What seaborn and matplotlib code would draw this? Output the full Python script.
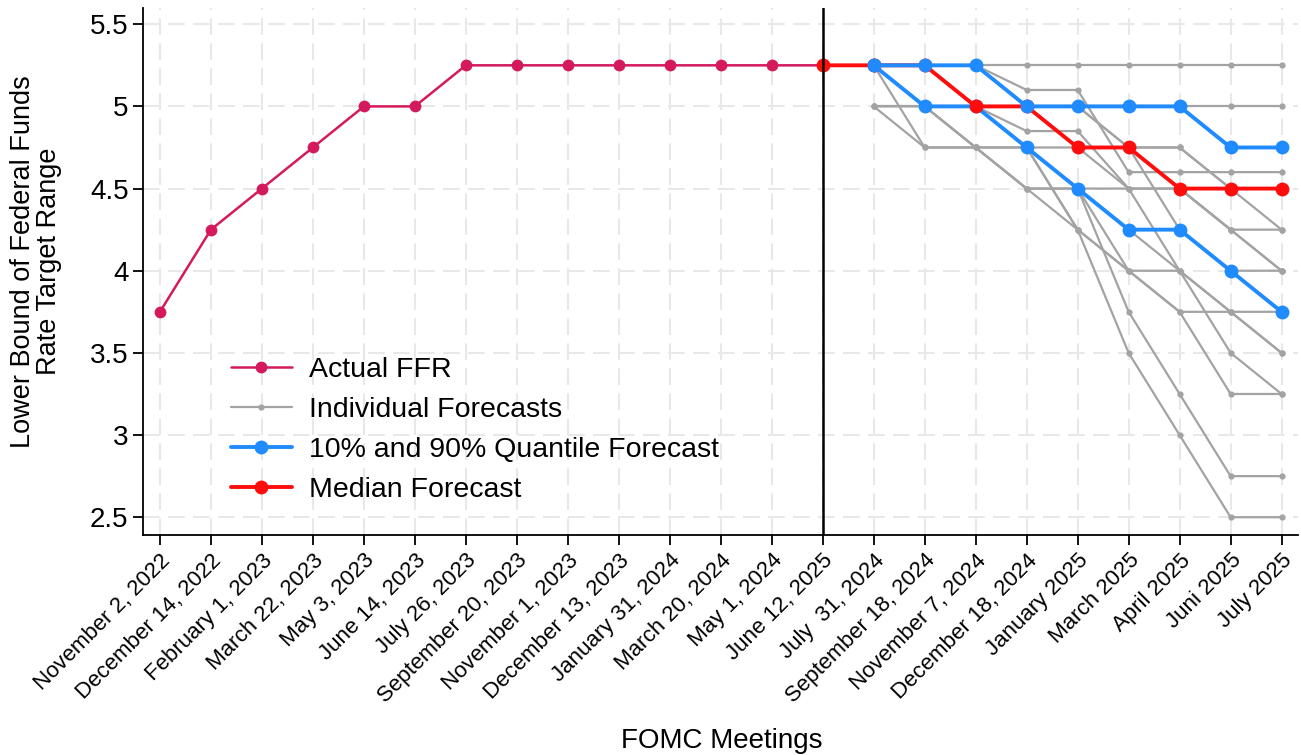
import numpy as np
import pandas as pd
import matplotlib
matplotlib.use('Agg')
import matplotlib.pyplot as plt
from matplotlib.lines import Line2D
from matplotlib.ticker import FuncFormatter
import seaborn as sns

sns.set_style('white')
plt.rcParams['font.family'] = ['Liberation Sans', 'DejaVu Sans']
plt.rcParams.update({'text.color': 'black', 'axes.labelcolor': 'black',
                     'xtick.color': 'black', 'ytick.color': 'black'})

meetings = ['November 2, 2022', 'December 14, 2022', 'February 1, 2023', 'March 22, 2023',
            'May 3, 2023', 'June 14, 2023', 'July 26, 2023', 'September 20, 2023',
            'November 1, 2023', 'December 13, 2023', 'January 31, 2024', 'March 20, 2024',
            'May 1, 2024', 'June 12, 2025', 'July  31, 2024', 'September 18, 2024',
            'November 7, 2024', 'December 18, 2024', 'January 2025', 'March 2025',
            'April 2025', 'Juni 2025', 'July 2025']

actual_ffr = [3.75, 4.25, 4.5, 4.75, 5.0, 5.0, 5.25, 5.25, 5.25, 5.25, 5.25, 5.25, 5.25, 5.25]

# forecasts cover the last nine meetings (July 31, 2024 -> July 2025)
median_fc = [5.25, 5.25, 5.25, 5.0, 5.0, 4.75, 4.75, 4.5, 4.5, 4.5]   # starts at June 12, 2025
q90_fc = [5.25, 5.25, 5.25, 5.0, 5.0, 5.0, 5.0, 4.75, 4.75]
q10_fc = [5.25, 5.0, 5.0, 4.75, 4.5, 4.25, 4.25, 4.0, 3.75]

individual_fc = {
    'F1': [5.25, 5.25, 5.25, 5.25, 5.25, 5.25, 5.25, 5.25, 5.25],
    'F2': [5.0, 5.0, 5.0, 5.0, 5.0, 5.0, 5.0, 5.0, 5.0],
    'F3': [5.25, 5.25, 5.25, 5.1, 5.1, 4.6, 4.6, 4.6, 4.6],
    'F4': [5.25, 5.0, 5.0, 4.85, 4.85, 4.5, 4.5, 4.25, 4.25],
    'F5': [5.25, 4.75, 4.75, 4.75, 4.75, 4.75, 4.75, 4.5, 4.5],
    'F6': [5.0, 4.75, 4.75, 4.5, 4.5, 4.5, 4.5, 4.25, 4.0],
    'F7': [5.0, 5.0, 4.75, 4.75, 4.25, 4.0, 4.0, 3.75, 3.5],
    'F8': [5.25, 5.0, 4.75, 4.5, 4.25, 3.5, 3.0, 2.5, 2.5],
    'F9': [5.25, 5.0, 4.75, 4.5, 4.5, 3.75, 3.25, 2.75, 2.75],
    'F10': [5.25, 5.25, 5.0, 4.75, 4.25, 4.0, 3.75, 3.75, 3.75],
    'F11': [5.25, 5.0, 5.0, 4.75, 4.5, 4.25, 4.0, 3.5, 3.25],
    'F12': [5.25, 5.25, 5.0, 5.0, 4.75, 4.5, 4.0, 3.75, 3.5],
    'F13': [5.25, 5.25, 5.0, 5.0, 5.0, 4.75, 4.5, 4.25, 4.0],
    'F14': [5.25, 5.0, 5.0, 4.75, 4.5, 4.0, 3.75, 3.25, 3.25],
    'F15': [5.25, 5.25, 5.25, 5.0, 4.75, 4.75, 4.25, 4.0, 4.0],
    'F16': [5.25, 5.25, 5.25, 5.0, 5.0, 4.75, 4.75, 4.5, 4.25],
}

c_actual = '#d41a5c'
c_gray = '#a3a3a3'
c_blue = '#1f8bff'
c_red = '#ff0d0d'

n = len(meetings)
fc_start = n - 9

df_actual = pd.DataFrame({'x': np.arange(len(actual_ffr)), 'rate': actual_ffr})
df_ind = pd.DataFrame([(k, fc_start + i, v) for k, vals in individual_fc.items()
                       for i, v in enumerate(vals)], columns=['forecaster', 'x', 'rate'])
df_med = pd.DataFrame({'x': np.arange(fc_start - 1, n), 'rate': median_fc})
df_q90 = pd.DataFrame({'x': np.arange(fc_start, n), 'rate': q90_fc})
df_q10 = pd.DataFrame({'x': np.arange(fc_start, n), 'rate': q10_fc})

fig = plt.figure(figsize=(13.01, 7.55), dpi=100)
ax = fig.add_axes([0.110, 0.291, 0.888, 0.698])

sns.lineplot(data=df_ind, x='x', y='rate', units='forecaster', estimator=None,
             color=c_gray, lw=1.6, marker='o', markersize=4.5, markeredgewidth=0,
             legend=False, ax=ax, zorder=3)
sns.lineplot(data=df_actual, x='x', y='rate', color=c_actual, lw=1.8, marker='o',
             markersize=8.5, markeredgewidth=0, legend=False, ax=ax, zorder=5)
sns.lineplot(data=df_q10, x='x', y='rate', color=c_blue, lw=2.8, marker='o',
             markersize=10, markeredgewidth=0, legend=False, ax=ax, zorder=4)
sns.lineplot(data=df_med, x='x', y='rate', color=c_red, lw=2.8, marker='o',
             markersize=10, markeredgewidth=0, legend=False, ax=ax, zorder=5)
sns.lineplot(data=df_q90, x='x', y='rate', color=c_blue, lw=2.8, marker='o',
             markersize=10, markeredgewidth=0, legend=False, ax=ax, zorder=6)

ax.axvline(fc_start - 1, color='black', lw=1.8, zorder=7)

ax.set_xlim(-0.33, n - 1 + 0.33)
ax.set_ylim(2.39, 5.597)
ax.set_xticks(np.arange(n))
ax.set_xticklabels(meetings, rotation=45, ha='right', rotation_mode='anchor', fontsize=16)
ax.set_yticks([2.5, 3, 3.5, 4, 4.5, 5, 5.5])
ax.yaxis.set_major_formatter(FuncFormatter(lambda v, p: f'{v:g}'))
ax.tick_params(axis='y', labelsize=20)
ax.tick_params(axis='both', direction='out', length=7, width=1.3, color='black',
               left=True, bottom=True)

ax.grid(True, color='#e8e8e8', lw=1.5, ls=(0, (8, 4)))
ax.set_axisbelow(True)
sns.despine(ax=ax)
for s in ['left', 'bottom']:
    ax.spines[s].set_color('black')
    ax.spines[s].set_linewidth(1.3)

ax.set_ylabel('Lower Bound of Federal Funds\nRate Target Range', fontsize=19.5, linespacing=1.0)
ax.yaxis.set_label_coords(-0.07, 0.52)
ax.set_xlabel('FOMC Meetings', fontsize=20)
ax.xaxis.set_label_coords(0.501, -0.365)

handles = [
    Line2D([], [], color=c_actual, lw=1.8, marker='o', markersize=8.5, markeredgewidth=0),
    Line2D([], [], color=c_gray, lw=1.6, marker='o', markersize=4.5, markeredgewidth=0),
    Line2D([], [], color=c_blue, lw=2.8, marker='o', markersize=10, markeredgewidth=0),
    Line2D([], [], color=c_red, lw=2.8, marker='o', markersize=10, markeredgewidth=0),
]
labels = ['Actual FFR', 'Individual Forecasts', '10% and 90% Quantile Forecast', 'Median Forecast']
ax.legend(handles, labels, loc='center left', bbox_to_anchor=(0.066, 0.2), frameon=False,
          fontsize=20.5, handlelength=2.15, handletextpad=0.6, labelspacing=0.5, borderaxespad=0)

fig.savefig('out.png', dpi=100)
